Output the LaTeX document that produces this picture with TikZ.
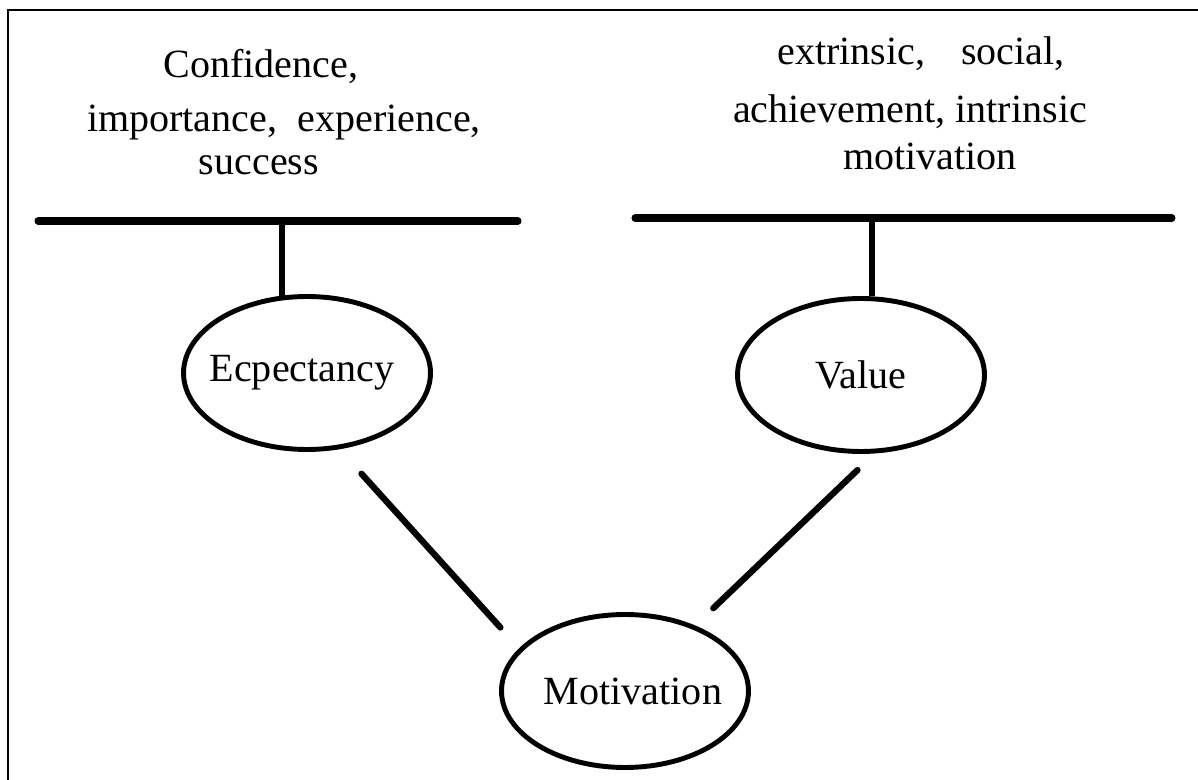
\documentclass[tikz,border=0pt]{standalone}
\usepackage{fontspec}
\setmainfont{Liberation Serif}
\usetikzlibrary{shapes.geometric}

\begin{document}
\begin{tikzpicture}[x=0.02cm, y=-0.02cm,
		oval/.style={ellipse, draw, line width=2.8pt, minimum width=4.94cm, minimum height=3.06cm, inner sep=0pt, font=\fontsize{22.8}{27}\selectfont},
		lbl/.style={anchor=base, inner sep=0pt, font=\fontsize{22.8}{27}\selectfont},
		bar/.style={line width=4pt, line cap=round},
		stem/.style={line width=3.2pt},
		link/.style={line width=3.6pt, line cap=round}]
		%%%%% START %%%%%
		
		\useasboundingbox (0,0) rectangle (1198,780);
		\clip (0,0) rectangle (1198,780);
		\draw[line width=1.7pt] (8,10) rectangle (1230,820);
		
		\node[lbl] (conf) at (261,78) {Confidence,};
		\node[lbl] (impo) at (284,132) {importance,\ \ experience,};
		\node[lbl] (succ) at (259,175) {success};
		
		\node[lbl] (extr) at (921,65) {extrinsic,\hspace{0.9em}social,};
		\node[lbl] (achi) at (910,123) {achievement, intrinsic};
		\node[lbl] (moti) at (930,170) {motivation};
		
		\coordinate (lbarL) at (38,221);
		\coordinate (lbarR) at (518,221);
		\coordinate (rbarL) at (635,218);
		\coordinate (rbarR) at (1172,218);
		\draw[bar] (lbarL) -- (lbarR);
		\draw[bar] (rbarL) -- (rbarR);
		
		\node[oval] (ecp) at (307,373) {\makebox[0pt]{\hspace*{-0.2cm}Ecpectancy}};
		\node[oval] (val) at (861,375) {\makebox[0pt]{Value}};
		\node[oval] (mot) at (625,691) {\makebox[0pt]{\hspace*{0.32cm}Motivation}};
		
		\draw[stem] (lbarL -| ecp.108) -- (ecp.108);
		\draw[stem] (rbarL -| val.82) -- (val.82);
		
		\draw[link, shorten <=0.66cm, shorten >=0.56cm] (ecp.-67) -- (mot.158);
		\draw[link, shorten <=0.48cm, shorten >=0.5cm] (val.-80) -- (mot.43);
		
		%%%%% END %%%%%
	\end{tikzpicture}
\end{document}
